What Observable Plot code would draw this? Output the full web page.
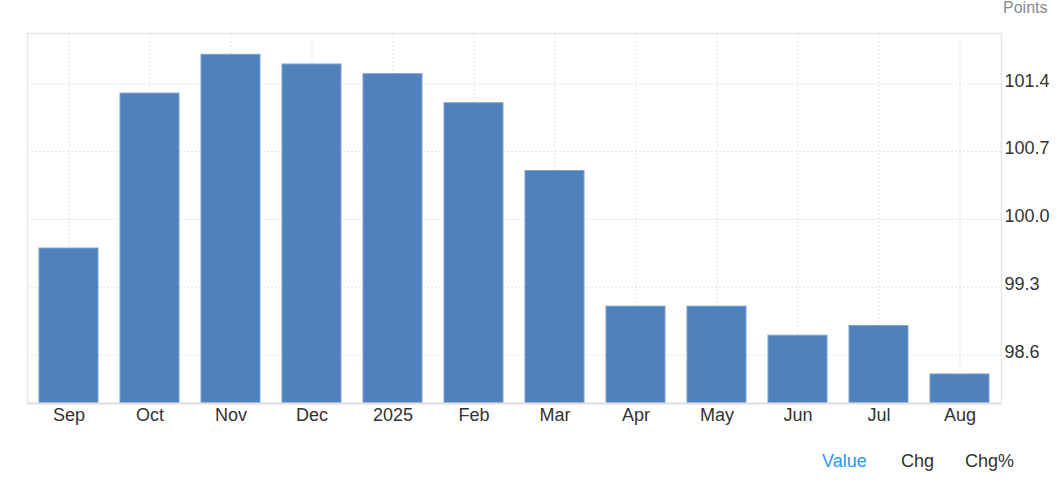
<!DOCTYPE html>
<html><head><meta charset="utf-8">
<script src="https://cdn.jsdelivr.net/npm/d3@7"></script>
<script src="https://cdn.jsdelivr.net/npm/@observablehq/plot@0.6"></script>
<style>
body{margin:0;background:#fff;font-family:"Liberation Sans",Arial,sans-serif;}
#wrap{position:relative;width:1060px;height:484px;}
#unit{position:absolute;left:1003px;top:0px;font-size:16px;line-height:16px;color:#8a8a8a;}
.leg{position:absolute;top:452px;font-size:18px;line-height:18px;color:#333;}
</style></head><body>
<div id="wrap"><div id="chart"></div>
<div id="unit">Points</div>
<div class="leg" style="left:822px;color:#2d96f0">Value</div>
<div class="leg" style="left:901px">Chg</div>
<div class="leg" style="left:965px">Chg%</div>
</div>
<script>
const months = ["Sep","Oct","Nov","Dec","2025","Feb","Mar","Apr","May","Jun","Jul","Aug"];
const values = [99.7,101.3,101.7,101.6,101.5,101.2,100.5,99.1,99.1,98.8,98.9,98.4];
const yTicks = [98.6,99.3,100.0,100.7,101.4];
const yMin = 98.1, yMax = 101.92;

const data = months.map((m,i)=>({month:m, value:values[i]}));
const grid = "#e3e3e3";

const chart = Plot.plot({
  width:1060, height:440,
  marginTop:33, marginBottom:37, marginLeft:27, marginRight:59,
  style:{fontFamily:'"Liberation Sans",Arial,sans-serif', fontSize:"18px", color:"#333", background:"white", overflow:"visible"},
  x:{domain:months, paddingInner:0.275, paddingOuter:0.12, label:null},
  y:{domain:[yMin,yMax], label:null},
  marks:[
    Plot.gridY(yTicks, {stroke:grid, strokeOpacity:1, strokeDasharray:"2,2"}),
    Plot.gridX(months, {stroke:grid, strokeOpacity:1, strokeDasharray:"2,2"}),
    Plot.gridY([yMax], {stroke:grid, strokeOpacity:1, strokeDasharray:"2,2"}),
    Plot.frame({stroke:"#e6e6e6", strokeWidth:1.5}),
    Plot.barY(data, {x:"month", y1:yMin, y2:"value", fill:"#4f81bd", stroke:"#7fa2d0", strokeWidth:1}),
    Plot.ruleY([yMin], {stroke:"#e0e0e0", strokeWidth:2}),
    Plot.axisY(yTicks, {anchor:"right", tickSize:0, tickPadding:3, dy:-3, tickFormat:d=>d.toFixed(1), fill:"#333"}),
    Plot.axisX({tickSize:0, tickPadding:5, fill:"#333"})
  ]
});
document.getElementById("chart").appendChild(chart);
</script>
</body></html>
